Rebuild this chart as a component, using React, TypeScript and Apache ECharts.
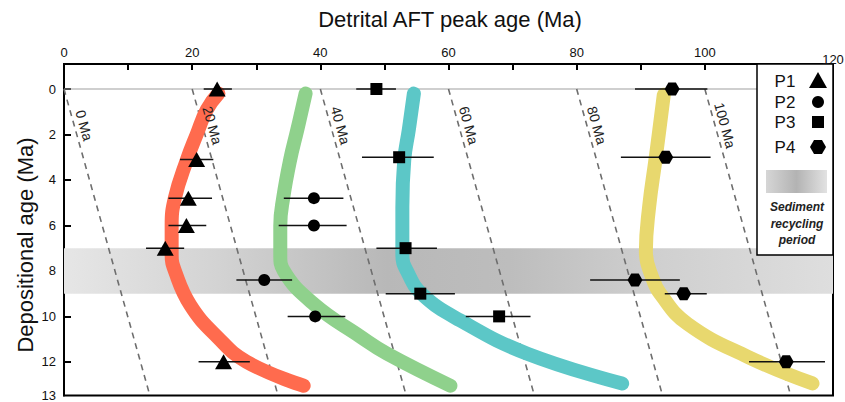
import React, { useEffect, useRef } from 'react';
import * as echarts from 'echarts';

// axis ticks / labels
const xTickValues = [0, 10, 20, 30, 40, 50, 60, 70, 80, 90, 100, 110, 120];
const xTickLabels = [0, 20, 40, 60, 80, 100];
const xLastLabel = '120';
const yTickValues = [0, 2, 4, 6, 8, 10, 12];
const yBottomLabel = '13';
const depMin = -1.1;
const depMax = 13.48;

// sediment recycling period (depositional age)
const recycleBand = [7.0, 9.0];

// lag-time isochrons: start peak age at dep 0, peak age at bottom of plot
const isoNames = ['0 Ma', '20 Ma', '40 Ma', '60 Ma', '80 Ma', '100 Ma'];
const isoTop = [0, 20, 40, 60, 80, 100];
const isoBottom = [13.4, 33.4, 53.4, 73.4, 93.4, 113.4];

// thick trend curves [peak age, depositional age]
const p1Curve = [[24.1, 0.2], [22.3, 0.9], [20.7, 2.0], [19.2, 3.1], [17.3, 4.8], [16.8, 6.0], [16.8, 7.3], [17.3, 8.0], [19.7, 9.5], [23.9, 10.9], [28.5, 12.0], [37.4, 13.05]];
const p2Curve = [[37.7, 0.2], [36.4, 1.8], [35.3, 3.1], [34.2, 4.8], [33.75, 6.0], [33.75, 7.3], [34.3, 8.0], [39.0, 9.46], [46.3, 10.9], [50.4, 11.64], [60.3, 13.05]];
const p3Curve = [[54.6, 0.2], [53.8, 1.8], [53.1, 3.1], [52.8, 5.2], [52.8, 7.3], [53.5, 8.0], [55.9, 9.03], [61.9, 10.19], [72.3, 11.64], [87.1, 12.95]];
const p4Curve = [[93.6, 0.25], [92.9, 1.8], [92.3, 3.1], [91.3, 5.2], [90.8, 7.15], [91.8, 8.3], [93.1, 9.03], [97.3, 10.33], [106.7, 11.78], [116.8, 12.95]];

// peak ages [peak age, depositional age, error low, error high]
const p1Points = [[23.9, 0, 21.8, 26.2], [20.7, 3.1, 18.1, 23.3], [19.4, 4.8, 16.3, 23.1], [19.1, 6.0, 16.3, 22.2], [15.8, 7.0, 12.8, 18.75], [24.9, 12.0, 21.0, 29.0]];
const p2Points = [[39.0, 4.8, 34.3, 43.6], [39.0, 6.0, 33.5, 44.1], [31.25, 8.4, 26.9, 35.6], [39.2, 10.0, 34.9, 43.9]];
const p3Points = [[48.75, 0, 45.6, 51.8], [52.3, 3.0, 46.5, 57.7], [53.3, 7.0, 48.75, 58.2], [55.6, 9.0, 50.2, 61.0], [67.9, 10.0, 62.7, 72.8]];
const p4Points = [[94.9, 0, 89.1, 100.4], [93.9, 3.0, 86.9, 100.9], [89.1, 8.4, 82.1, 96.1], [96.7, 9.0, 93.75, 100.3], [112.7, 12.0, 106.9, 118.75]];

const seriesNames = ['P1', 'P2', 'P3', 'P4'];
const curveColors = ['#FF6B4E', '#8FD18C', '#5CC7C7', '#E8D86E'];
const hexPath = 'path://M0,5 L2.887,0 L8.66,0 L11.547,5 L8.66,10 L2.887,10 Z';
const symbols = ['triangle', 'circle', 'rect', hexPath];
const symbolSizes: any[] = [[17, 15], 12, 12, [15, 13]];

const FONT = 'Liberation Sans, Arial, sans-serif';

export default function App() {
  const ref = useRef<HTMLDivElement>(null);
  useEffect(() => {
    document.body.style.margin = '0';
    const chart = echarts.init(ref.current!, undefined, { renderer: 'svg' });
    const curves = [p1Curve, p2Curve, p3Curve, p4Curve];
    const points = [p1Points, p2Points, p3Points, p4Points];

    const series: any[] = [];
    series.push({
      type: 'line',
      name: 'zero',
      data: [[0, 0], [120, 0]],
      symbol: 'none',
      lineStyle: { color: '#a0a0a0', width: 1.2 },
      z: 1,
      silent: true,
      markArea: {
        silent: true,
        itemStyle: {
          color: new echarts.graphic.LinearGradient(0, 0, 1, 0, [
            { offset: 0, color: '#e6e6e6' },
            { offset: 0.2, color: '#d3d3d3' },
            { offset: 0.42, color: '#b8b8b8' },
            { offset: 0.58, color: '#bdbdbd' },
            { offset: 0.78, color: '#d0d0d0' },
            { offset: 1, color: '#dedede' },
          ]),
        },
        data: [[{ xAxis: 0, yAxis: recycleBand[0] }, { xAxis: 120, yAxis: recycleBand[1] }]],
      },
    });
    isoTop.forEach((t, i) => {
      series.push({
        type: 'line',
        name: isoNames[i],
        data: [[t, 0], [isoBottom[i], depMax]],
        symbol: 'none',
        lineStyle: { color: '#6e6e6e', width: 1.6, type: [6, 5] },
        z: 2,
        silent: true,
      });
    });
    curves.forEach((c, i) => {
      series.push({
        type: 'line',
        name: seriesNames[i] + ' trend',
        data: c,
        symbol: 'none',
        smooth: 0.45,
        lineStyle: { color: curveColors[i], width: 14, cap: 'round', join: 'round' },
        z: 3,
        silent: true,
      });
    });
    points.forEach((p, i) => {
      series.push({
        type: 'custom',
        name: seriesNames[i] + ' err',
        data: p,
        encode: { x: [2, 3], y: 1 },
        clip: false,
        renderItem: (params: any, api: any) => {
          const y = api.value(1);
          const a = api.coord([api.value(2), y]);
          const b = api.coord([api.value(3), y]);
          return {
            type: 'line',
            shape: { x1: a[0], y1: a[1], x2: b[0], y2: b[1] },
            style: { stroke: '#111', lineWidth: 1.5 },
          };
        },
        z: 4,
        silent: true,
      });
      series.push({
        type: 'scatter',
        name: seriesNames[i],
        data: p.map((d) => [d[0], d[1]]),
        symbol: symbols[i],
        symbolSize: symbolSizes[i],
        itemStyle: { color: '#000', opacity: 1 },
        z: 5,
        silent: true,
      });
    });

    chart.setOption({
      animation: false,
      backgroundColor: '#ffffff',
      grid: { left: 64, top: 64, right: 12, bottom: 3, show: true, borderColor: '#000', borderWidth: 2, backgroundColor: 'transparent' },
      xAxis: {
        type: 'value',
        position: 'top',
        min: 0,
        max: 120,
        interval: 10,
        splitLine: { show: false },
        axisLine: { onZero: false, lineStyle: { color: '#000', width: 2 } },
        axisTick: { inside: true, length: 6, lineStyle: { color: '#000', width: 2 }, customValues: xTickValues },
        axisLabel: {
          customValues: xTickLabels,
          formatter: (v: number) => String(v),
          color: '#111',
          fontSize: 13,
          fontFamily: FONT,
          margin: 5,
        },
      },
      yAxis: {
        type: 'value',
        inverse: true,
        min: depMin,
        max: depMax,
        splitLine: { show: false },
        axisLine: { onZero: false, lineStyle: { color: '#000', width: 2 } },
        axisTick: { inside: true, length: 7, lineStyle: { color: '#000', width: 2 }, customValues: yTickValues },
        axisLabel: {
          customValues: [...yTickValues, depMax],
          formatter: (v: number) => (v > 12.5 ? yBottomLabel : String(v)),
          color: '#111',
          fontSize: 13,
          fontFamily: FONT,
          margin: 8,
        },
      },
      series,
    });

    const graphic: any[] = [];
    // isochron labels
    isoTop.forEach((t, i) => {
      const dep = 1.6;
      const x = t + (isoBottom[i] - t) * (dep / depMax);
      const p = chart.convertToPixel({ gridIndex: 0 }, [x, dep]) as number[];
      graphic.push({
        type: 'text',
        x: p[0] + 10,
        y: p[1],
        rotation: (-74.5 * Math.PI) / 180,
        z: 10,
        style: { text: isoNames[i], fontSize: 14, fontFamily: FONT, fill: '#222', align: 'center', verticalAlign: 'middle' },
      });
    });
    // titles
    graphic.push({
      type: 'text', x: 450, y: 19, z: 10,
      style: { text: 'Detrital AFT peak age (Ma)', fontSize: 22, fontFamily: FONT, fill: '#111', align: 'center', verticalAlign: 'middle' },
    });
    graphic.push({
      type: 'text', x: 25, y: 245, rotation: Math.PI / 2, z: 10,
      style: { text: 'Depositional age (Ma)', fontSize: 22, fontFamily: FONT, fill: '#111', align: 'center', verticalAlign: 'middle' },
    });
    // legend box
    graphic.push({
      type: 'rect', z: 20,
      shape: { x: 757, y: 64, width: 76, height: 191 },
      style: { fill: '#fff', stroke: '#000', lineWidth: 1.5 },
    });
    const p120 = chart.convertToPixel({ gridIndex: 0 }, [120, 0]) as number[];
    graphic.push({
      type: 'text', x: p120[0], y: 59, z: 30,
      style: { text: xLastLabel, fontSize: 13, fontFamily: FONT, fill: '#111', align: 'center', verticalAlign: 'middle' },
    });
    const legendY = [81, 102, 122, 147];
    seriesNames.forEach((n, i) => {
      graphic.push({
        type: 'text', x: 785, y: legendY[i], z: 21,
        style: { text: n, fontSize: 17, fontFamily: FONT, fill: '#111', align: 'center', verticalAlign: 'middle' },
      });
    });
    graphic.push({ type: 'polygon', z: 21, shape: { points: [[818, 72], [827, 88], [809, 88]] }, style: { fill: '#000' } });
    graphic.push({ type: 'circle', z: 21, shape: { cx: 818, cy: 102, r: 6 }, style: { fill: '#000' } });
    graphic.push({ type: 'rect', z: 21, shape: { x: 812, y: 116, width: 12, height: 12 }, style: { fill: '#000' } });
    graphic.push({ type: 'polygon', z: 21, shape: { points: [[810, 147], [814, 140], [822, 140], [826, 147], [822, 154], [814, 154]] }, style: { fill: '#000' } });
    graphic.push({
      type: 'rect', z: 21,
      shape: { x: 766, y: 170, width: 61, height: 23 },
      style: {
        fill: new echarts.graphic.LinearGradient(0, 0, 1, 0, [
          { offset: 0, color: '#d6d6d6' },
          { offset: 0.5, color: '#b3b3b3' },
          { offset: 1, color: '#e2e2e2' },
        ]),
      },
    });
    ['Sediment', 'recycling', 'period'].forEach((t, i) => {
      graphic.push({
        type: 'text', x: 797, y: 207 + i * 16.5, z: 21,
        style: { text: t, fontSize: 12, fontStyle: 'italic', fontWeight: 'bold', fontFamily: FONT, fill: '#222', align: 'center', verticalAlign: 'middle' },
      });
    });
    chart.setOption({ graphic });

    return () => chart.dispose();
  }, []);
  return <div ref={ref} style={{ position: 'absolute', left: 0, top: 0, width: 845, height: 402 }} />;
}
